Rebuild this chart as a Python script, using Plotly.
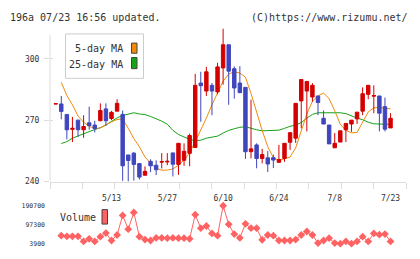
import plotly.graph_objects as go

# ---------------- data ----------------
date_labels = ["5/13", "5/27", "6/10", "6/24", "7/8", "7/23"]
label_idx = [10, 20, 30, 40, 50, 60]

opens = [277.9, 277.9, 272.8, 265.5, 270.0, 265.3, 268.7, 267.6, 269.7, 275.5,
         270.8, 274.4, 272.8, 253.0, 253.9, 248.8, 243.1, 249.9, 248.0, 249.5,
         249.6, 254.0, 248.4, 250.4, 253.8, 256.7, 288.1, 284.2, 287.0, 283.8,
         295.5, 306.8, 295.1, 288.1, 286.0, 254.6, 257.9, 251.3, 251.6, 251.7,
         249.4, 251.3, 259.2, 261.2, 279.4, 284.2, 281.3, 281.8, 270.9, 267.6,
         256.5, 259.3, 265.3, 268.1, 270.6, 274.4, 282.6, 281.7, 281.8, 276.6,
         266.2]
highs = [278.0, 281.8, 272.8, 271.6, 270.2, 272.4, 276.6, 269.7, 278.2, 278.2,
         274.5, 280.2, 274.7, 253.0, 254.5, 249.0, 247.4, 250.9, 250.4, 253.9,
         253.9, 254.0, 258.7, 258.7, 263.4, 292.6, 293.6, 296.0, 288.1, 298.0,
         314.6, 306.8, 296.3, 296.3, 286.0, 280.0, 258.7, 256.0, 254.9, 253.2,
         257.9, 258.7, 263.9, 278.2, 289.8, 288.9, 288.1, 281.8, 274.7, 267.6,
         263.7, 264.8, 268.4, 270.0, 273.9, 286.0, 287.0, 287.0, 281.8, 281.0,
         273.4]
lows = [277.9, 270.4, 260.6, 259.3, 261.8, 261.4, 265.3, 264.0, 269.5, 267.2,
        270.0, 274.4, 240.4, 240.0, 240.5, 241.0, 243.1, 244.6, 243.2, 246.4,
        248.0, 242.5, 243.3, 247.7, 247.5, 256.7, 269.2, 281.8, 272.4, 282.6,
        287.3, 277.5, 280.5, 283.4, 251.1, 251.3, 246.5, 248.9, 244.7, 246.6,
        249.4, 249.7, 255.5, 258.9, 266.0, 264.5, 279.0, 272.4, 268.1, 258.4,
        256.5, 259.3, 259.3, 264.3, 268.1, 272.4, 280.2, 273.4, 264.5, 264.5,
        266.2]
closes = [278.0, 274.2, 265.3, 266.0, 265.3, 266.9, 267.3, 265.9, 274.7, 269.7,
          273.8, 278.2, 247.7, 250.3, 248.4, 242.2, 245.0, 247.7, 245.8, 249.8,
          249.9, 248.5, 258.7, 254.8, 262.5, 287.0, 286.8, 293.6, 284.2, 296.0,
          306.8, 293.9, 285.7, 283.4, 254.6, 256.0, 251.3, 253.2, 248.6, 250.5,
          250.8, 258.7, 263.9, 278.2, 289.8, 288.9, 287.0, 278.6, 268.1, 258.4,
          258.7, 264.8, 268.4, 270.0, 273.9, 282.9, 287.0, 282.0, 273.4, 265.6,
          270.9]

ma5 = [None,
       288.5, 282, 277.5, 272, 269, 267, 265.8, 266.2, 267.6, 269.2,
       270.3, 270.5, 266, 261, 257, 252, 249, 246.5, 245.6, 245.6,
       246.2, 248, 250.5, 254, 259.5, 265, 271, 277.5, 283.5, 289,
       292.5, 293.6, 293, 291, 283, 273.5, 265, 257, 251.7, 250.3,
       251.2, 252, 256.5, 264.5, 273, 279.2, 281.9, 283.2, 280.5, 274.5,
       268, 265, 263.8, 264, 269, 274, 276, 276.2, 275.8, 275.5]
ma25 = [None,
        258.6, 259.5, 261.2, 262.4, 263.4, 264.4, 265.4, 266.3, 267.7, 269.6,
        271.1, 272.3, 273, 273.6, 273, 272.7, 271.8, 270.8, 269.5, 268,
        265, 263, 261.8, 260.6, 260, 260.2, 261.2, 261.8, 262.2, 263.7,
        265, 265.8, 266.5, 266.8, 266, 265.3, 264.8, 264.8, 264.8, 265.1,
        266, 267, 267.6, 268.8, 271, 272.8, 273.6, 273.6, 273.6, 273.6,
        273.6, 273.2, 271.9, 271, 270.2, 269, 268.2, 268, 268, 268]
volume = [None,
          43300, 40000, 40000, 40000, 14800, 27600, 14800, 38400, 56000, 19600,
          46700, 143000, 75200, 157400, 38400, 24300, 19600, 32400, 32400, 31000,
          32400, 31000, 31000, 27600, 146500, 80000, 90900, 54300, 43300, 190700,
          99000, 51400, 32400, 101800, 80000, 80000, 22900, 46700, 43300, 19600,
          19600, 19600, 24300, 46700, 63800, 46700, 6800, 19600, 31000, 6800,
          3900, 14800, 3900, 14800, 38400, 14800, 54300, 48000, 51400, 14800]
price_ticks = [240, 270, 300]

idx = list(range(len(opens)))

# ---------------- styling ----------------
W, H = 420, 259
RED = "#d40000"
BLUE = "#3f46bd"
ORANGE = "#f18a0c"
GREEN = "#16a316"
VOLC = "#ff6262"
GRID = "#dcdcdc"
TXT = "#333333"
MONO = "DejaVu Sans Mono"

def px_x(p):
    return p / W

def px_y(p):
    return 1 - p / H

X0, X1 = -1.02, 62.77
xdom = [px_x(50), px_x(406)]
ydom = [px_y(184), px_y(22.7)]
YR = [240, 316]
vols = [v for v in volume if v is not None]
vmin, vmax = min(vols), max(vols)
vdom = [px_y(248.3), px_y(209)]

fig = go.Figure()

# moving averages (base subplot, under candles)
fig.add_trace(go.Scatter(x=idx, y=ma25, mode="lines", line=dict(color=GREEN, width=1),
                         xaxis="x", yaxis="y", hoverinfo="skip", showlegend=False))
fig.add_trace(go.Scatter(x=idx, y=ma5, mode="lines", line=dict(color=ORANGE, width=1),
                         xaxis="x", yaxis="y", hoverinfo="skip", showlegend=False))

# candles (overlay subplot, drawn on top)
fig.add_trace(go.Candlestick(
    x=idx, open=opens, high=highs, low=lows, close=closes,
    xaxis="x", yaxis="y3",
    increasing=dict(line=dict(color=RED, width=1), fillcolor=RED),
    decreasing=dict(line=dict(color=BLUE, width=1), fillcolor=BLUE),
    whiskerwidth=0, hoverinfo="skip", showlegend=False))

# invisible trace to carry date labels axis
fig.add_trace(go.Scatter(x=label_idx, y=[YR[0]] * len(label_idx), mode="markers",
                         marker=dict(opacity=0), xaxis="x2", yaxis="y",
                         hoverinfo="skip", showlegend=False))

# volume
fig.add_trace(go.Scatter(x=idx, y=volume, mode="lines+markers",
                         line=dict(color=VOLC, width=1),
                         marker=dict(symbol="diamond", size=6, color=VOLC),
                         xaxis="x4", yaxis="y4", cliponaxis=False,
                         hoverinfo="skip", showlegend=False))

step = (X1 - X0) / 11
grid_vals = [X0 + k * step for k in range(12)]

fig.update_layout(
    width=W, height=H, autosize=False,
    margin=dict(l=0, r=0, t=0, b=0),
    paper_bgcolor="white", plot_bgcolor="white",
    showlegend=False, boxgap=0.12,
    xaxis=dict(domain=xdom, range=[X0, X1], anchor="y", showgrid=False, zeroline=False,
               showline=True, linecolor=GRID, linewidth=1,
               tickmode="array", tickvals=grid_vals, showticklabels=False,
               ticks="outside", ticklen=6, tickcolor=GRID, tickwidth=1,
               rangeslider=dict(visible=False)),
    xaxis2=dict(overlaying="x", range=[X0, X1], anchor="y", showgrid=False, zeroline=False,
                showline=False, tickmode="array", tickvals=label_idx, ticktext=date_labels,
                ticks="outside", ticklen=9, tickcolor="rgba(0,0,0,0)",
                tickfont=dict(family=MONO, size=8, color=TXT)),
    yaxis=dict(domain=ydom, range=YR, anchor="x", showgrid=False, zeroline=False,
               showline=False, tickmode="array", tickvals=price_ticks,
               ticks="outside", ticklen=5, tickcolor=GRID, tickwidth=1,
               ticklabelstandoff=3,
               tickfont=dict(family=MONO, size=8, color=TXT)),
    yaxis3=dict(overlaying="y", range=YR, anchor="x", showgrid=False, zeroline=False,
                showline=False, tickmode="array", tickvals=price_ticks,
                ticks="inside", ticklen=3, tickcolor=GRID, tickwidth=1,
                showticklabels=False),
    xaxis4=dict(domain=xdom, range=[X0, X1], anchor="y4", visible=False),
    yaxis4=dict(domain=vdom, range=[vmin, vmax], anchor="x4", showgrid=False,
                zeroline=False, showline=False, ticks="",
                tickmode="array", tickvals=[vmin, (vmin + vmax) / 2, vmax],
                ticktext=[str(int(vmin)), str(int((vmin + vmax) / 2)), str(int(vmax))],
                ticklabelstandoff=4,
                tickfont=dict(family=MONO, size=6.5, color=TXT)),
)

shapes = [
    # left axis line
    dict(type="line", xref="paper", yref="y", x0=xdom[0], x1=xdom[0], y0=240, y1=311.5,
         line=dict(color=GRID, width=1), layer="below"),
    # MA legend box
    dict(type="rect", xref="paper", yref="paper", x0=px_x(65.5), x1=px_x(143.5),
         y0=px_y(77), y1=px_y(31), line=dict(color="#cccccc", width=1), fillcolor="white"),
    dict(type="rect", xref="paper", yref="paper", x0=px_x(131.5), x1=px_x(137),
         y0=px_y(51), y1=px_y(40.5), line=dict(color="#444444", width=1), fillcolor=ORANGE),
    dict(type="rect", xref="paper", yref="paper", x0=px_x(131.5), x1=px_x(137),
         y0=px_y(67), y1=px_y(55.5), line=dict(color="#444444", width=1), fillcolor=GREEN),
    # volume legend swatch
    dict(type="rect", xref="paper", yref="paper", x0=px_x(102), x1=px_x(107.5),
         y0=px_y(228), y1=px_y(213), line=dict(color="#444444", width=1), fillcolor=VOLC),
]
fig.update_layout(shapes=shapes)

ann = [
    dict(text="196a 07/23 16:56 updated.", x=px_x(8), y=px_y(13.5), xanchor="left"),
    dict(text="(C)https://www.rizumu.net/", x=px_x(410), y=px_y(13.5), xanchor="right"),
    dict(text="5-day MA", x=px_x(125), y=px_y(46), xanchor="right"),
    dict(text="25-day MA", x=px_x(125), y=px_y(62.5), xanchor="right"),
    dict(text="Volume", x=px_x(58), y=px_y(221.5), xanchor="left"),
]
for a in ann:
    a.update(xref="paper", yref="paper", yanchor="middle", showarrow=False,
             font=dict(family=MONO, size=10, color=TXT))
fig.update_layout(annotations=ann)

fig.write_html("out.html")
